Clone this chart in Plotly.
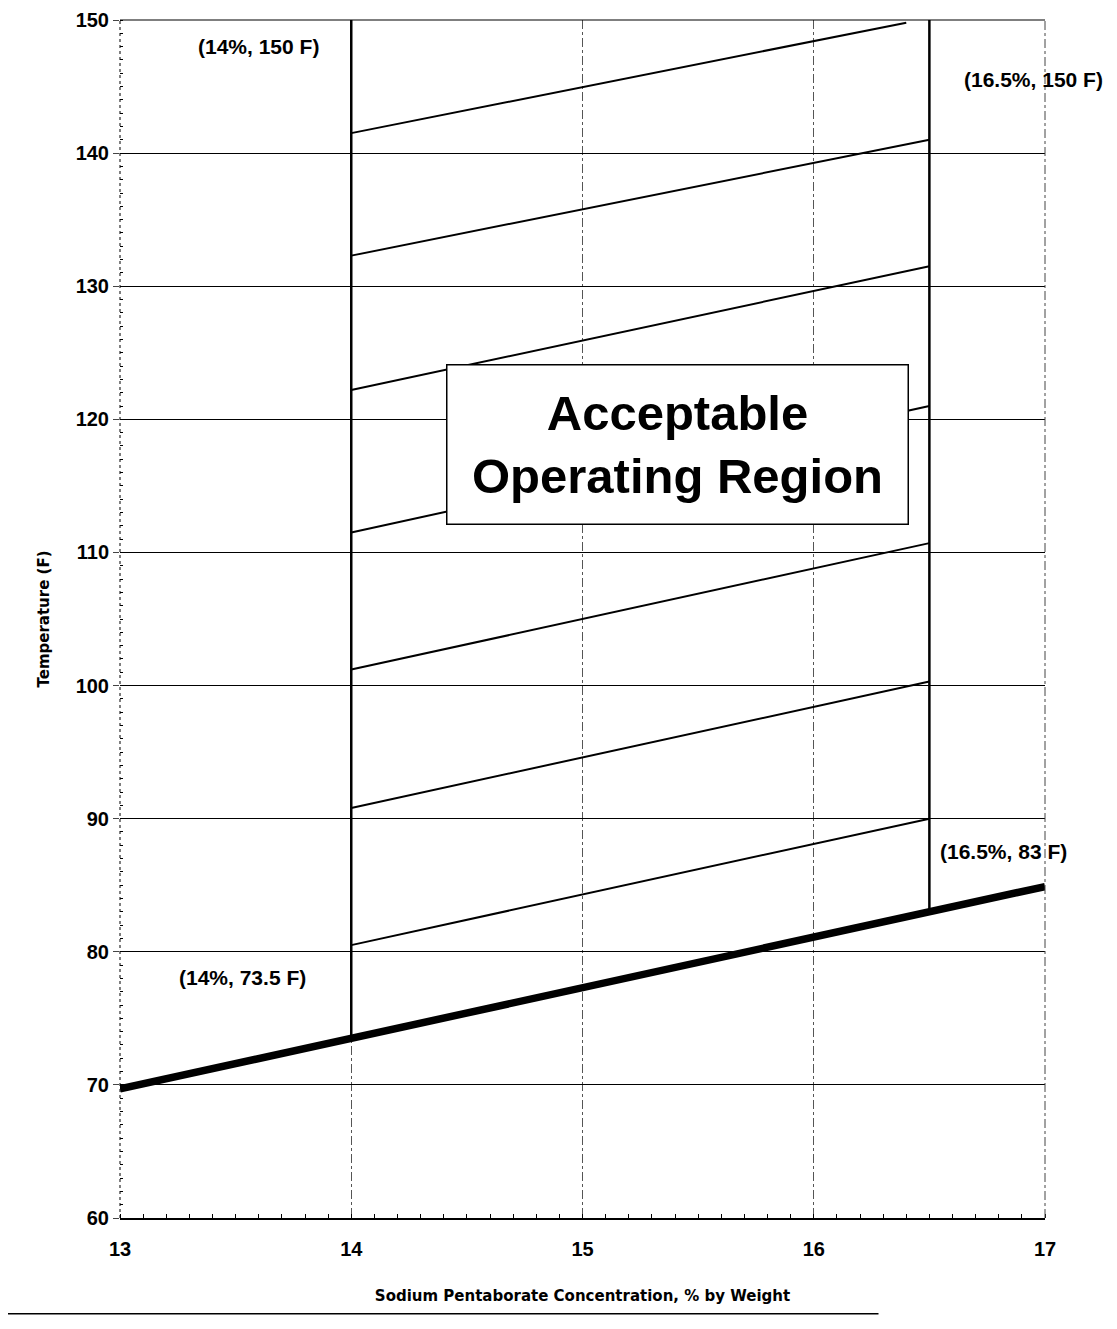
import plotly.graph_objects as go

# Saturation (solubility) line
sat_x = [13, 14, 16.5, 17]
sat_y = [69.7, 73.5, 83.0, 84.9]

# Operating region boundaries
left_x = [14, 14]
left_y = [73.5, 150]
right_x = [16.5, 16.5]
right_y = [83.0, 150]

# Hatch lines inside region (start at 14 %, end at right)
hatch_x0 = [14, 14, 14, 14, 14, 14, 14]
hatch_y0 = [80.5, 90.8, 101.2, 111.5, 122.2, 132.3, 141.5]
hatch_x1 = [16.5, 16.5, 16.5, 16.5, 16.5, 16.5, 16.4]
hatch_y1 = [90.0, 100.3, 110.7, 121.0, 131.5, 141.0, 149.8]

x_ticks = [13, 14, 15, 16, 17]
y_ticks = [60, 70, 80, 90, 100, 110, 120, 130, 140, 150]

labels = ["(14%, 150 F)", "(16.5%, 150 F)", "(16.5%, 83 F)", "(14%, 73.5 F)"]
label_x = [13.60, 16.95, 16.82, 13.53]
label_y = [148.0, 145.5, 87.5, 78.1]

FONT = "Arial, Liberation Sans, sans-serif"
WIDE = "DejaVu Sans, sans-serif"

fig = go.Figure()

for x0, y0, x1, y1 in zip(hatch_x0, hatch_y0, hatch_x1, hatch_y1):
    fig.add_trace(go.Scatter(x=[x0, x1], y=[y0, y1], mode="lines",
                             line=dict(color="black", width=2), showlegend=False,
                             hoverinfo="skip"))

fig.add_trace(go.Scatter(x=left_x, y=left_y, mode="lines",
                         line=dict(color="black", width=2.5), showlegend=False))
fig.add_trace(go.Scatter(x=right_x, y=right_y, mode="lines",
                         line=dict(color="black", width=2.5), showlegend=False))
fig.add_trace(go.Scatter(x=sat_x, y=sat_y, mode="lines",
                         line=dict(color="black", width=7.5), showlegend=False))

for t, x, y in zip(labels, label_x, label_y):
    fig.add_annotation(x=x, y=y, text="<b>" + t + "</b>", showarrow=False,
                       font=dict(family=FONT, size=21, color="black"))

fig.add_annotation(x=15.41, y=118.1, text="<b>Acceptable<br>Operating Region</b>",
                   showarrow=False, bgcolor="white", bordercolor="black",
                   borderwidth=1.5, borderpad=14, width=432, height=130,
                   font=dict(family=FONT, size=49, color="black"))

# top border line (150) and right dash-dot grid line (17)
fig.add_shape(type="line", xref="paper", yref="paper", x0=0, x1=1, y0=1, y1=1,
              line=dict(color="black", width=1.2))
fig.add_shape(type="line", xref="paper", yref="paper", x0=1, x1=1, y0=0, y1=1,
              line=dict(color="#444444", width=1, dash="dashdot"))
# dotted y-axis line
fig.add_shape(type="line", xref="paper", yref="paper", x0=0, x1=0, y0=0, y1=1,
              line=dict(color="black", width=1, dash="dot"))
# bottom page rule
fig.add_shape(type="line", xref="paper", yref="paper", x0=-0.124, x1=0.82,
              y0=-0.080, y1=-0.080, line=dict(color="black", width=1.5))

fig.update_layout(
    width=1117, height=1329,
    margin=dict(l=112, r=80, t=12, b=119),
    paper_bgcolor="white", plot_bgcolor="white",
    font=dict(family=FONT, color="black"),
    showlegend=False,
    xaxis=dict(range=[13, 17], tickvals=x_ticks, ticks="outside", ticklen=0,
               showline=True, linecolor="black", linewidth=1.5, automargin=False,
               showgrid=True, gridcolor="#555555", gridwidth=1, griddash="dashdot",
               zeroline=False, ticklabelstandoff=12,
               minor=dict(dtick=0.1, ticks="inside", ticklen=4, tickcolor="black",
                          showgrid=False),
               tickfont=dict(family=FONT, size=20, color="black", weight="bold"),
               title=dict(text="<b>Sodium Pentaborate Concentration, % by Weight</b>",
                          font=dict(family=WIDE, size=15, color="black"), standoff=32)),
    yaxis=dict(range=[60, 150], tickvals=y_ticks, ticks="outside", ticklen=6,
               showline=False, showgrid=True, gridcolor="black", gridwidth=1,
               zeroline=False, automargin=False,
               minor=dict(dtick=1, ticks="inside", ticklen=3, tickcolor="black",
                          showgrid=False),
               tickfont=dict(family=FONT, size=20, color="black", weight="bold"),
               title=dict(text="<b>Temperature (F)</b>",
                          font=dict(family=WIDE, size=15, color="black"), standoff=22)),
)

fig.write_html("out.html")
